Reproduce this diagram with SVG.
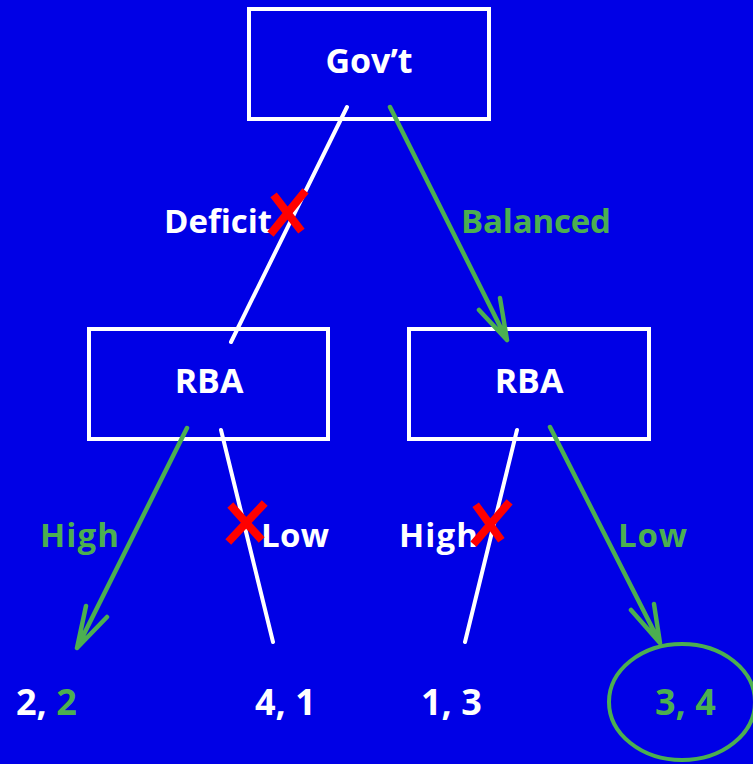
<svg xmlns="http://www.w3.org/2000/svg" width="753" height="764" viewBox="0 0 753 764">
  <style>
    .box { fill: none; stroke: #ffffff; stroke-width: 4; }
    .lbl { font-family: "Open Sans", "DejaVu Sans", sans-serif; font-weight: 700; }
    .node { font-size: 34px; fill: #ffffff; text-anchor: middle; }
    .edge { font-size: 33px; }
    .pay { font-size: 36px; }
    .w { fill: #ffffff; }
    .g { fill: #4caf50; }
    .lw { stroke: #ffffff; stroke-width: 4; stroke-linecap: round; fill: none; }
    .lg { stroke: #4caf50; stroke-width: 4.5; stroke-linecap: round; stroke-linejoin: round; fill: none; }
    .x { stroke: #ff0000; stroke-width: 8; stroke-linecap: square; fill: none; }
  </style>
  <rect x="0" y="0" width="753" height="764" fill="#0000e6"/>

  <g id="govt">
    <rect class="box" x="249" y="9" width="240" height="110"/>
    <text class="lbl node" x="369" y="73">Gov’t</text>
  </g>
  <g id="rba-left">
    <rect class="box" x="89" y="329" width="239" height="110"/>
    <text class="lbl node" x="209" y="393">RBA</text>
  </g>
  <g id="rba-right">
    <rect class="box" x="409" y="329" width="240" height="110"/>
    <text class="lbl node" x="529" y="393">RBA</text>
  </g>

  <g id="connectors">
    <!-- Gov't branches -->
    <line class="lw" x1="347" y1="107" x2="231" y2="342"/>
    <path class="lg" d="M390 107 L507 340 M479 310 L507 340 L500 298"/>
    <!-- left RBA branches -->
    <path class="lg" d="M187 428 L77 648 M86 606 L77 648 L107 617"/>
    <line class="lw" x1="221" y1="430" x2="273" y2="642"/>
    <!-- right RBA branches -->
    <line class="lw" x1="517" y1="430" x2="465" y2="642"/>
    <path class="lg" d="M550 427 L660 643 M631 610 L660 643 L654 604"/>
  </g>

  <g id="edge-labels">
    <text class="lbl edge w" x="164" y="233" textLength="108">Deficit</text>
    <text class="lbl edge g" x="461" y="233" textLength="150">Balanced</text>
    <text class="lbl edge g" x="40" y="547" textLength="79">High</text>
    <text class="lbl edge w" x="261" y="547" textLength="68">Low</text>
    <text class="lbl edge w" x="399" y="547" textLength="79">High</text>
    <text class="lbl edge g" x="618" y="547" textLength="69">Low</text>
  </g>

  <g id="crosses">
    <path class="x" d="M276 198 L299 228 M303 194 L273 231"/>
    <path class="x" d="M233 508 L259 537 M262 506 L231 539"/>
    <path class="x" d="M478 508 L499 537 M507 505 L476 541"/>
  </g>

  <g id="payoffs">
    <text class="lbl pay" x="16" y="715"><tspan class="w">2, </tspan><tspan class="g">2</tspan></text>
    <text class="lbl pay w" x="255" y="715">4, 1</text>
    <text class="lbl pay w" x="421" y="715">1, 3</text>
    <text class="lbl pay g" x="655" y="715">3, 4</text>
    <ellipse cx="682" cy="702" rx="73" ry="58" fill="none" stroke="#4caf50" stroke-width="4"/>
  </g>
</svg>
